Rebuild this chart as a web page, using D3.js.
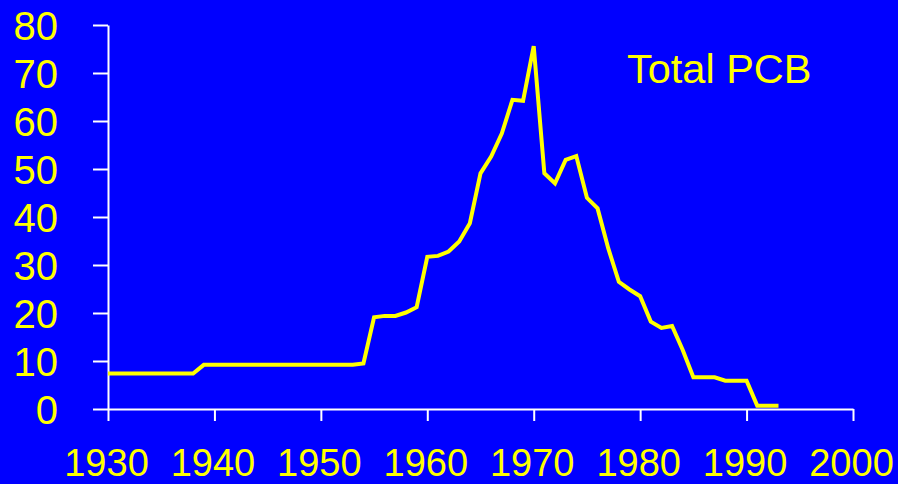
<!DOCTYPE html>
<html>
<head>
<meta charset="utf-8">
<script src="https://cdn.jsdelivr.net/npm/d3@7"></script>
<style>
  html, body { margin: 0; padding: 0; background: #0000ff; }
  svg { display: block; }
  text { font-family: "Liberation Sans", Arial, sans-serif; fill: #ffff00; }
</style>
</head>
<body>
<div id="chart"></div>
<script>
var width = 898,
    height = 484;

// years and total PCB values
var years = [1930, 1931, 1932, 1933, 1934, 1935, 1936, 1937, 1938, 1939,
             1940, 1941, 1942, 1943, 1944, 1945, 1946, 1947, 1948, 1949,
             1950, 1951, 1952, 1953, 1954, 1955, 1956, 1957, 1958, 1959,
             1960, 1961, 1962, 1963, 1964, 1965, 1966, 1967, 1968, 1969,
             1970, 1971, 1972, 1973, 1974, 1975, 1976, 1977, 1978, 1979,
             1980, 1981, 1982, 1983, 1984, 1985, 1986, 1987, 1988, 1989,
             1990, 1991, 1992, 1993];
var totalPCB = [7.4, 7.4, 7.4, 7.4, 7.4, 7.4, 7.4, 7.4, 7.4, 9.2,
                9.2, 9.2, 9.2, 9.2, 9.2, 9.2, 9.2, 9.2, 9.2, 9.2,
                9.2, 9.2, 9.2, 9.2, 9.5, 19.1, 19.4, 19.4, 20.1, 21.2,
                31.7, 31.9, 32.8, 34.9, 38.7, 49.1, 52.6, 57.4, 64.4, 64.2,
                75.6, 49.1, 47.0, 51.9, 52.7, 44.0, 41.8, 33.5, 26.5, 24.9,
                23.5, 18.2, 16.9, 17.3, 12.3, 6.6, 6.6, 6.6, 5.9, 5.9,
                5.9, 0.7, 0.7, 0.7];

var xTicks = [1930, 1940, 1950, 1960, 1970, 1980, 1990, 2000];
var yTicks = [0, 10, 20, 30, 40, 50, 60, 70, 80];

var svg = d3.select("#chart").append("svg")
    .attr("width", width)
    .attr("height", height)
    .style("background", "#0000ff");

var x = d3.scaleLinear().domain([1930, 2000]).range([108, 853]);
var y = d3.scaleLinear().domain([0, 80]).range([409, 25]);

// y axis
var yAxis = svg.append("g")
    .attr("transform", "translate(108,0)")
    .call(d3.axisLeft(y).tickValues(yTicks).tickSizeInner(15).tickSizeOuter(0).tickPadding(35));
yAxis.selectAll("path, line").attr("stroke", "#ffffff").attr("stroke-width", 2);
yAxis.selectAll("text")
    .style("font-size", "40px")
    .attr("fill", "#ffff00")
    .attr("dy", "0.36em");

// x axis
var xAxis = svg.append("g")
    .attr("transform", "translate(0,409)")
    .call(d3.axisBottom(x).tickValues(xTicks).tickFormat(d3.format("d")).tickSizeInner(12).tickSizeOuter(0).tickPadding(28));
xAxis.selectAll("path, line").attr("stroke", "#ffffff").attr("stroke-width", 2);
xAxis.selectAll("text")
    .style("font-size", "38px")
    .attr("fill", "#ffff00")
    .attr("dx", "-2");

var line = d3.line()
    .x(function(d, i) { return x(years[i]); })
    .y(function(d) { return y(d); });

svg.append("path")
    .datum(totalPCB)
    .attr("d", line)
    .attr("fill", "none")
    .attr("stroke", "#ffff00")
    .attr("stroke-width", 4)
    .attr("stroke-linejoin", "miter");

svg.append("text")
    .attr("x", 627)
    .attr("y", 83)
    .style("font-size", "41.5px")
    .text("Total PCB");
</script>
</body>
</html>
